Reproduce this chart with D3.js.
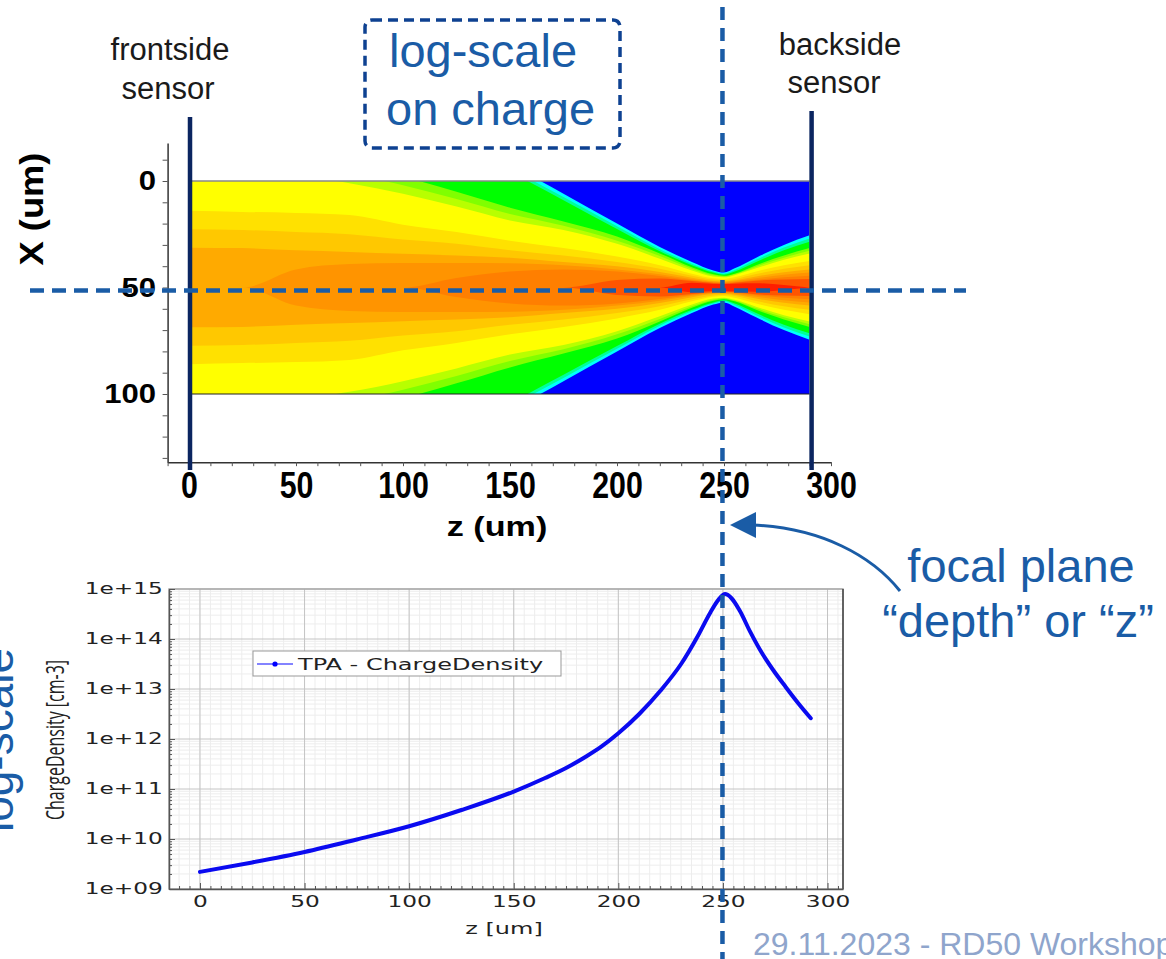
<!DOCTYPE html>
<html><head><meta charset="utf-8">
<script src="https://cdn.jsdelivr.net/npm/d3@7"></script>
<style>html,body{margin:0;padding:0;background:#fff;} svg{display:block;}</style>
</head><body>
<svg id="c" width="1166" height="959"></svg>
<script>
// ---------------- DATA ----------------
// Bottom chart: on-axis TPA charge density vs depth z
const chargeZ = [0,25,50,75,100,125,150,165,175,185,192,200,210,220,230,238,244,248,251,254,258,263,268,274,280,286,292];
const chargeDensity = [2.2e9,3.4e9,5.5e9,9.8e9,1.8e10,3.8e10,8.9e10,1.66e11,2.63e11,4.57e11,7.1e11,1.3e12,3.16e12,9.1e12,3.16e13,1.15e14,3.4e14,6.2e14,7.9e14,6.6e14,3.7e14,1.4e14,5.8e13,2.4e13,1.1e13,5.2e12,2.6e12];
const seriesName = "TPA - ChargeDensity";
const yDecades = [1e9,1e10,1e11,1e12,1e13,1e14,1e15];
const yTickLabels = ["1e+09","1e+10","1e+11","1e+12","1e+13","1e+14","1e+15"];
const xTicksBottom = [0,50,100,150,200,250,300];

// Top chart: log-scale charge map, contour bands given as half-widths (um) around X = 50 um
const beamZ = [0,25,50,75,100,125,150,175,200,220,235,245,250,255,265,278,290];
const contourColors = ["#00ffff","#00ff99","#00ff00","#80ff00","#b8ff00","#ffff00","#ffe100","#ffc800","#ffaa00","#ff9400","#ff7f00","#ff5500","#ff1e00"];
const wCyan      = [120,112,104,96,86,73,58,44,30,19,12,8,7,9,14,20,24.5];
const wAqua      = [118,110,102,94,84,71,56,42.5,28.8,18,11.2,7.5,6.5,8.2,13,18.8,23];
const wGreen     = [116,108,100,92,82,69,54.5,41,27.5,17,10.5,7,6,7.5,12,17.5,21.5];
const wLime      = [80,72,65,58,52,45,37.5,31,24,16,9.5,6.2,5.5,6.5,10.5,15,18.5];
const wChartr    = [70,64,59,53.5,48,41.5,34.5,29,22,14.8,8.8,5.7,5.2,6.2,9.8,14,17.2];
const wYellow    = [60,56,52.5,49,44,38,31.5,27,20.5,13.5,8,5.2,4.8,5.8,9,13,16];
const wGold      = [36,35.5,35,34,29.5,26,22,18.5,14.5,10.5,6.5,4.3,4,4.8,7.5,10.5,12.5];
const wAmber     = [27.3,27,26,25,22.5,20.5,17.5,15,12,8.8,5.5,3.7,3.4,4,6.3,8.8,10.5];
const wOrange    = [18.7,18.5,17.5,16.7,15.8,15,14,12,10,7.3,4.6,3.1,2.9,3.4,5.2,7.2,8.5];
const wDarkOr    = [0,0,8.5,11,11.5,11.5,11.4,10.5,8.5,6.2,3.9,2.7,2.5,2.9,4.3,6,7];
const wDeepOr    = [0,0,0,0,0,4.5,7.5,8.5,7.5,5.4,3.4,2.3,2.1,2.5,3.6,4.8,5.5];
const wRedOr     = [0,0,0,0,0,0,0,0,3.5,4.2,3,2.1,1.9,2.2,3.2,3.8,4];
const wRed       = [0,0,0,0,0,0,0,0,0,0,2.2,1.7,1.6,1.8,2,1.2,0];
const beamLength = 290;   // um
const beamCenter = 50;    // um
const topXTicks = [0,50,100,150,200,250,300];
const topYTicks = [0,50,100];
const focalZ = 250;

// ---------------- DRAW ----------------
const svg = d3.select("#c");
const blue = "#1a5ca6";

// ===== top chart =====
const zTop = d3.scaleLinear().domain([0,300]).range([189,831]);
const xTop = d3.scaleLinear().domain([0,100]).range([181,394]);

const defs = svg.append("defs");
defs.append("clipPath").attr("id","hmclip").append("rect")
  .attr("x", zTop(0)).attr("y", xTop(0))
  .attr("width", zTop(beamLength)-zTop(0)).attr("height", xTop(100)-xTop(0));

const hm = svg.append("g").attr("clip-path","url(#hmclip)");
hm.append("rect").attr("x", zTop(0)).attr("y", xTop(0))
  .attr("width", zTop(beamLength)-zTop(0)).attr("height", xTop(100)-xTop(0)).attr("fill","#0000ff");

const bands = [wCyan,wAqua,wGreen,wLime,wChartr,wYellow,wGold,wAmber,wOrange,wDarkOr,wDeepOr,wRedOr,wRed];
const area = d3.area()
  .x(d => zTop(d.z))
  .y0(d => xTop(beamCenter - d.w))
  .y1(d => xTop(beamCenter + d.w))
  .curve(d3.curveMonotoneX);
bands.forEach((ws,k) => {
  const pts = beamZ.map((z,i) => ({z, w: ws[i]}));
  hm.append("path").datum(pts).attr("d", area).attr("fill", contourColors[k]);
});
// heatmap frame lines
svg.append("line").attr("x1",zTop(0)).attr("x2",zTop(beamLength)).attr("y1",xTop(0)).attr("y2",xTop(0)).attr("stroke","#888").attr("stroke-width",1.5);
svg.append("line").attr("x1",zTop(0)).attr("x2",zTop(beamLength)).attr("y1",xTop(100)).attr("y2",xTop(100)).attr("stroke","#222").attr("stroke-width",1.2);

// top axes
const zAxisScale = d3.scaleLinear().domain([-10,300]).range([zTop(-10), zTop(300)]);
const xAxisScale = d3.scaleLinear().domain([-17.8,132]).range([xTop(-17.8), xTop(132)]);
const gzt = svg.append("g").attr("transform",`translate(0,${xAxisScale.range()[1]})`)
  .call(d3.axisBottom(zAxisScale).tickValues(d3.range(-10,301,10)).tickSize(4).tickSizeOuter(0)
    .tickFormat(d => topXTicks.includes(d) ? String(d) : ""));
gzt.select(".domain").attr("stroke","#333").attr("stroke-width",1.5);
gzt.selectAll(".tick line").attr("stroke","#555");
gzt.selectAll(".tick text").attr("y",10).attr("fill","#000")
  .style("font-family","'Liberation Sans',Arial,sans-serif").style("font-weight","bold").style("font-size","37px")
  .attr("transform","scale(0.82,1)");

const gxt = svg.append("g").attr("transform",`translate(${zAxisScale.range()[0]},0)`)
  .call(d3.axisLeft(xAxisScale).tickValues(d3.range(-10,131,10)).tickSize(5).tickSizeOuter(0)
    .tickFormat(d => topYTicks.includes(d) ? String(d) : ""));
gxt.select(".domain").attr("stroke","#333").attr("stroke-width",1.5);
gxt.selectAll(".tick line").attr("stroke","#555");
gxt.selectAll(".tick text").attr("x",-10).attr("fill","#000")
  .style("font-family","'Liberation Sans',Arial,sans-serif").style("font-weight","bold").style("font-size","27px")
  .attr("transform","scale(1.15,1)");

svg.append("text").attr("transform","translate(497,536) scale(1.22,1)").attr("text-anchor","middle")
  .style("font-family","'Liberation Sans',Arial,sans-serif").style("font-weight","bold").style("font-size","28px")
  .text("z (um)");
svg.append("text").attr("transform","translate(43,209) rotate(-90) scale(1.1,1)").attr("text-anchor","middle")
  .style("font-family","'Liberation Sans',Arial,sans-serif").style("font-weight","bold").style("font-size","33px")
  .text("X (um)");

// sensors
svg.append("line").attr("x1",zTop(0)+1).attr("x2",zTop(0)+1).attr("y1",117).attr("y2",470).attr("stroke","#0b2560").attr("stroke-width",4.5);
svg.append("line").attr("x1",zTop(beamLength)+2).attr("x2",zTop(beamLength)+2).attr("y1",111).attr("y2",470).attr("stroke","#0b2560").attr("stroke-width",4.5);

const lab = (x,y,t,size,fill,anchor) => svg.append("text").attr("x",x).attr("y",y).attr("text-anchor",anchor||"middle")
  .attr("fill",fill).style("font-family","'Liberation Sans',Arial,sans-serif").style("font-size",size+"px").text(t);
lab(170,60,"frontside",31,"#1a1a1a");
lab(168,99,"sensor",31,"#1a1a1a");
lab(840,55,"backside",31,"#1a1a1a");
lab(834,93,"sensor",31,"#1a1a1a");

// log-scale box
svg.append("rect").attr("x",365).attr("y",20).attr("width",255).attr("height",128).attr("rx",7)
  .attr("fill","none").attr("stroke","#0e4191").attr("stroke-width",3.5).attr("stroke-dasharray","10,6");
lab(389,67,"log-scale",47,blue,"start");
lab(386,125,"on charge",47,blue,"start");

// ===== bottom chart =====
const xB = d3.scaleLinear().domain([-14.8,307.4]).range([169,843]);
const yB = d3.scaleLog().domain([1e9,1e15]).range([889,589]);
const [pl,pr] = xB.range(); const [pb,pt] = yB.range();
const gB = svg.append("g");
const minorX = d3.range(-10,306,5);
const minorY = [];
yDecades.slice(0,-1).forEach(d => { for (let m=2;m<10;m++) minorY.push(d*m); });
gB.selectAll(".mgx").data(minorX).join("line").attr("x1",d=>xB(d)).attr("x2",d=>xB(d)).attr("y1",pt).attr("y2",pb).attr("stroke","#ededed");
gB.selectAll(".mgy").data(minorY).join("line").attr("y1",d=>yB(d)).attr("y2",d=>yB(d)).attr("x1",pl).attr("x2",pr).attr("stroke","#ededed");
gB.selectAll(".gx").data(xTicksBottom).join("line").attr("x1",d=>xB(d)).attr("x2",d=>xB(d)).attr("y1",pt).attr("y2",pb).attr("stroke","#c4c4c4");
gB.selectAll(".gy").data(yDecades).join("line").attr("y1",d=>yB(d)).attr("y2",d=>yB(d)).attr("x1",pl).attr("x2",pr).attr("stroke","#c4c4c4");
gB.append("rect").attr("x",pl).attr("y",pt).attr("width",pr-pl).attr("height",pb-pt).attr("fill","none").attr("stroke","#a8a8a8").attr("stroke-width",1.5);
gB.append("line").attr("x1",pr).attr("x2",pr).attr("y1",pt).attr("y2",pb).attr("stroke","#444").attr("stroke-width",1.5);

const gxb = gB.append("g").attr("transform",`translate(0,${pb})`)
  .call(d3.axisBottom(xB).tickValues(minorX).tickSize(-3).tickSizeOuter(0)
    .tickFormat(d => xTicksBottom.includes(d) ? String(d) : ""));
gxb.select(".domain").attr("stroke","#555").attr("stroke-width",1.5);
gxb.selectAll(".tick line").attr("stroke","#555").attr("y2", d => xTicksBottom.includes(d) ? -6 : -3);
gxb.selectAll(".tick text").attr("y",7).attr("fill","#222")
  .style("font-family","'DejaVu Sans',sans-serif").style("font-size","15px").attr("transform","scale(1.55,1)");

const gyb = gB.append("g").attr("transform",`translate(${pl},0)`)
  .call(d3.axisLeft(yB).tickValues(yDecades.concat(minorY)).tickSize(-3).tickSizeOuter(0)
    .tickFormat(d => { const i = yDecades.indexOf(d); return i >= 0 ? yTickLabels[i] : ""; }));
gyb.select(".domain").attr("stroke","#555").attr("stroke-width",1.5);
gyb.selectAll(".tick line").attr("stroke","#555").attr("x2", d => yDecades.includes(d) ? 6 : 3);
gyb.selectAll(".tick text").attr("x",-4).attr("fill","#222")
  .style("font-family","'DejaVu Sans',sans-serif").style("font-size","15px").attr("transform","scale(1.55,1)");

gB.append("text").attr("transform","translate(504,934) scale(1.6,1)").attr("text-anchor","middle").attr("fill","#222")
  .style("font-family","'DejaVu Sans',sans-serif").style("font-size","15px").text("z [um]");
gB.append("text").attr("transform","translate(64,740) scale(1.55,1) rotate(-90)").attr("text-anchor","middle").attr("fill","#222")
  .style("font-family","'Open Sans',sans-serif").style("font-size","16px").text("ChargeDensity [cm-3]");

const line = d3.line().x((d,i)=>xB(chargeZ[i])).y(d=>yB(d)).curve(d3.curveMonotoneX);
gB.append("path").datum(chargeDensity).attr("d",line).attr("fill","none").attr("stroke","#0a0af0").attr("stroke-width",4).attr("stroke-linecap","round");

// legend
const lg = gB.append("g");
lg.append("rect").attr("x",253).attr("y",651).attr("width",308).attr("height",25).attr("fill","#fff").attr("stroke","#999");
lg.append("line").attr("x1",257).attr("x2",293).attr("y1",664).attr("y2",664).attr("stroke","#5a5aff").attr("stroke-width",1.5);
lg.append("circle").attr("cx",275).attr("cy",664).attr("r",2.6).attr("fill","#0000ff");
lg.append("text").attr("transform","translate(298,670) scale(1.6,1)").attr("fill","#222")
  .style("font-family","'DejaVu Sans',sans-serif").style("font-size","15px").text(seriesName);

// rotated log-scale (cut at left edge, as in the slide)
svg.append("text").attr("transform","translate(13,740) rotate(-90)").attr("text-anchor","middle").attr("fill",blue)
  .style("font-family","'Liberation Sans',Arial,sans-serif").style("font-size","46px").text("log-scale");

// ===== dashed guides =====
const fx = (zTop(focalZ) + xB(focalZ)) / 2;
svg.append("line").attr("x1",30).attr("x2",966).attr("y1",xTop(beamCenter)+3).attr("y2",xTop(beamCenter)+3)
  .attr("stroke",blue).attr("stroke-width",4.5).attr("stroke-dasharray","14,8");
svg.append("line").attr("x1",fx-1).attr("x2",fx-1).attr("y1",7).attr("y2",959)
  .attr("stroke",blue).attr("stroke-width",4.5).attr("stroke-dasharray","13,8");

// annotation
svg.append("path").attr("d","M900,591 C872,556 822,528 752,525").attr("fill","none").attr("stroke",blue).attr("stroke-width",3);
svg.append("path").attr("d","M730,525 L756,512 L756,538 Z").attr("fill",blue);
lab(1021,582,"focal plane",47,blue);
lab(1018,637,"\u201Cdepth\u201D or \u201Cz\u201D",47,blue);

// footer (runs off the right edge, as in the slide)
lab(753,955,"29.11.2023 - RD50 Workshop",32,"#8fa5cc","start");
</script>
</body></html>
